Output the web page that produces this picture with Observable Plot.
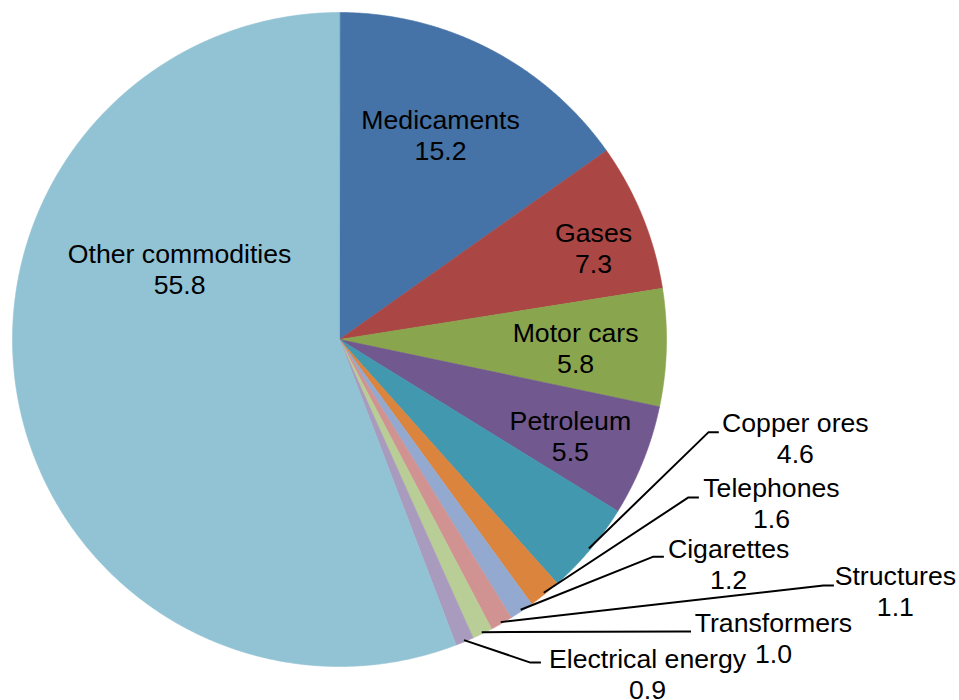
<!DOCTYPE html>
<html><head><meta charset="utf-8">
<script src="https://cdn.jsdelivr.net/npm/d3@7"></script>
<script src="https://cdn.jsdelivr.net/npm/@observablehq/plot@0.6"></script>
<style>body{margin:0;background:#fff}#chart svg{display:block}</style>
</head><body><div id="chart"></div>
<script>
// ---- data ----
const categories = ["Medicaments","Gases","Motor cars","Petroleum","Copper ores","Telephones","Cigarettes","Structures","Transformers","Electrical energy","Other commodities"];
const values = [15.2,7.3,5.8,5.5,4.6,1.6,1.2,1.1,1.0,0.9,55.8];
const valueLabels = ["15.2","7.3","5.8","5.5","4.6","1.6","1.2","1.1","1.0","0.9","55.8"];

// ---- style ----
const colors = ["#4572A7","#AA4643","#89A54E","#71588F","#4198AF","#DB843D","#93A9CF","#D19392","#B9CD96","#A99BBD","#92C3D4"];

// ---- layout (pie radius units, relative to pie centre, y up) ----
const W = 959, H = 700, CX = 339, CY = 339, R = 327;
const labelAnchors = [[0.309,0.645],[0.777,0.297],[0.722,-0.009],[0.706,-0.278],[1.394,-0.284],[1.321,-0.483],[1.190,-0.667],[1.700,-0.752],[1.327,-0.896],[0.942,-1.006],[-0.489,0.235]];
const leaderElbows = [null,null,null,null,[1.128,-0.284],[1.067,-0.483],[0.960,-0.664],[1.480,-0.752],[1.043,-0.893],[0.584,-0.988],null];

const total = d3.sum(values);
let cum = 0;
const slices = values.map((v, i) => {
  const a0 = cum / total * 2 * Math.PI;
  cum += v;
  const a1 = cum / total * 2 * Math.PI;
  return {name: categories[i], value: v, label: valueLabels[i], color: colors[i], a0, a1, mid: (a0 + a1) / 2};
});

const marks = [];
for (const s of slices) {
  const n = Math.max(2, Math.ceil((s.a1 - s.a0) / (Math.PI / 720)));
  const pts = [{x: 0, y: 0}];
  for (let k = 0; k <= n; k++) {
    const a = s.a0 + (s.a1 - s.a0) * k / n;
    pts.push({x: Math.sin(a), y: Math.cos(a)});
  }
  marks.push(Plot.line(pts, {x: "x", y: "y", curve: "linear-closed", fill: s.color, stroke: s.color, strokeWidth: 0.6}));
}

// leader lines
slices.forEach((s, i) => {
  const e = leaderElbows[i];
  if (!e) return;
  const pts = [
    {x: 0.995 * Math.sin(s.mid), y: 0.995 * Math.cos(s.mid)},
    {x: e[0], y: e[1]},
    {x: e[0] + 0.032, y: e[1]}
  ];
  marks.push(Plot.line(pts, {x: "x", y: "y", stroke: "#000", strokeWidth: 2, strokeLinecap: "butt", strokeLinejoin: "miter"}));
});

const labelData = slices.map((s, i) => ({name: s.name, label: s.label, x: labelAnchors[i][0], y: labelAnchors[i][1]}));
const font = {fontSize: 26.67, fontFamily: "Liberation Sans, Arial, Helvetica, sans-serif", fill: "#000", textAnchor: "middle", lineAnchor: "bottom"};
marks.push(Plot.text(labelData, {x: "x", y: "y", text: "name", ...font}));
marks.push(Plot.text(labelData, {x: "x", y: "y", text: "label", dy: 31, ...font}));

const chart = Plot.plot({
  width: W, height: H, margin: 0,
  x: {domain: [-CX / R, (W - CX) / R], axis: null},
  y: {domain: [-(H - CY) / R, CY / R], axis: null},
  marks
});
document.getElementById("chart").appendChild(chart);
</script>
</body></html>
